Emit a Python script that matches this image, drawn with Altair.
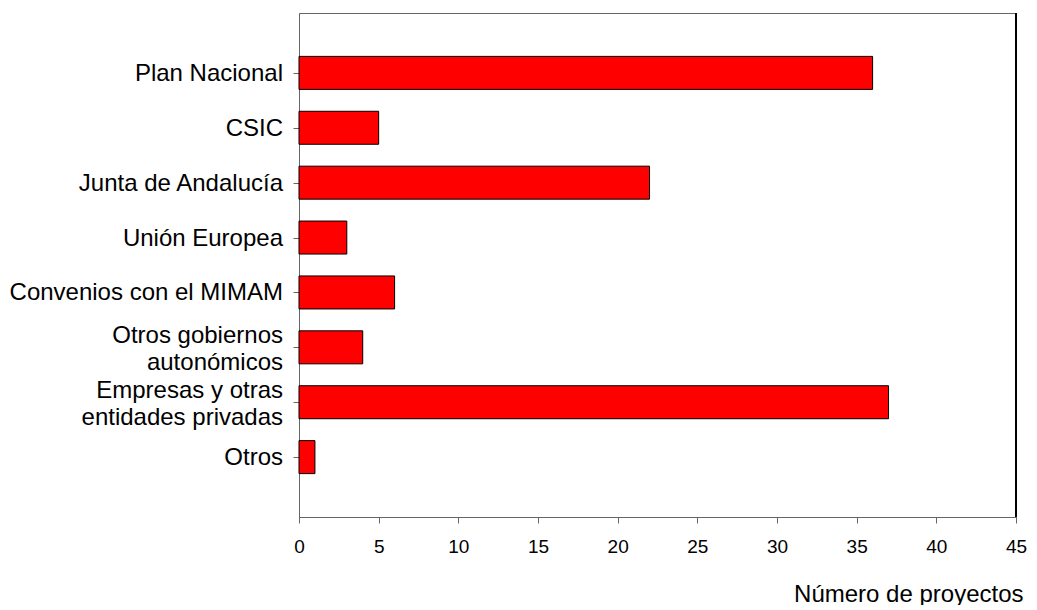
import altair as alt
import pandas as pd

categories = [
    "Plan Nacional",
    "CSIC\u00a0",
    "Junta de Andalucía",
    "Unión Europea\u00a0",
    "Convenios con el MIMAM",
    "Otros gobiernos\nautonómicos",
    "Empresas y otras\u00a0\nentidades privadas\u00a0",
    "Otros",
]
values = [36, 5, 22, 3, 6, 4, 37, 1]
positions = [1, 2, 3, 4, 5, 6, 7, 8]
x_ticks = [0, 5, 10, 15, 20, 25, 30, 35, 40, 45]

df = pd.DataFrame({"cat": categories, "val": values, "pos": positions})

FONT = "Liberation Sans"
GRAY = "#666666"

y_scale = alt.Scale(domain=[0, 9], reverse=True, nice=False, zero=False)
x_scale = alt.Scale(domain=[0, 45], nice=False)

bars = alt.Chart(df).mark_bar(
    orient="horizontal", size=33, color="#ff0000", stroke="#000000", strokeWidth=1
).encode(
    x=alt.X("val:Q", scale=x_scale,
            axis=alt.Axis(values=x_ticks, grid=False, domainColor=GRAY, tickColor=GRAY,
                          tickSize=6, labelFont=FONT, labelFontSize=19, labelColor="#000",
                          labelFlush=False, labelPadding=14, labelOverlap=False,
                          title="Número de proyectos", titleFont=FONT,
                          titleFontSize=24, titleFontWeight="normal", titleColor="#000",
                          titleX=724, titleY=84, titleAlign="right",
                          titleBaseline="alphabetic")),
    y=alt.Y("pos:Q", scale=y_scale,
            axis=alt.Axis(values=positions, labels=False, grid=False, domainColor=GRAY,
                          tickColor=GRAY, tickSize=6, title=None)),
)

single = alt.Chart(df).transform_filter(
    "indexof(datum.cat, '\\n') < 0"
).mark_text(
    align="right", baseline="middle", font=FONT, fontSize=24, color="#000", dy=1
).encode(
    x=alt.value(-16),
    y=alt.Y("pos:Q", scale=y_scale),
    text="cat:N",
)

multi = alt.Chart(df).transform_filter(
    "indexof(datum.cat, '\\n') >= 0"
).mark_text(
    align="right", baseline="middle", font=FONT, fontSize=24, lineBreak="\n",
    lineHeight=27, color="#000", dy=-11
).encode(
    x=alt.value(-16),
    y=alt.Y("pos:Q", scale=y_scale),
    text="cat:N",
)

right_border = alt.Chart(df).mark_rule(color="#000000", strokeWidth=1.5).encode(
    x=alt.datum(45)
)

chart = alt.layer(bars, single, multi, right_border).properties(
    width=717,
    height=504,
    autosize=alt.AutoSizeParams(type="none"),
    padding={"left": 291, "top": 5, "right": 13, "bottom": 88},
).configure_view(stroke=GRAY, strokeWidth=1)

chart.save("out.html", embed_options={"renderer": "svg", "actions": False})
